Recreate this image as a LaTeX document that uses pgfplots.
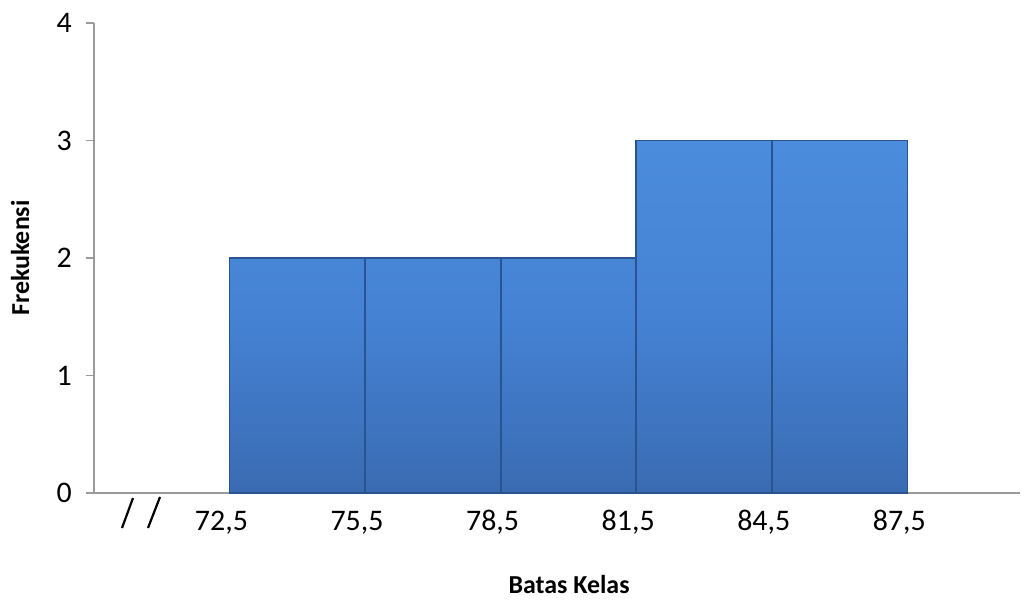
\documentclass[border=0pt]{standalone}
\usepackage{pgfplots}
\pgfplotsset{compat=1.18}
\usepackage{fontspec}
\setmainfont{Carlito}
\definecolor{barmid}{HTML}{4582D4}
\definecolor{bartop}{HTML}{4C8CDC}
\definecolor{barbot}{HTML}{3A6BB2}
\definecolor{baredge}{HTML}{2A5490}
\definecolor{axgray}{HTML}{9A9A9A}
\begin{document}
\begin{tikzpicture}
\begin{axis}[
  scale only axis,
  width=926bp, height=470bp,
  xmin=0, xmax=6.83, ymin=0, ymax=4,
  axis x line=bottom, axis y line=left,
  axis line style={-, draw=axgray, line width=1.2bp},
  ytick={0,1,2,3,4},
  xtick={0.94,1.94,2.94,3.94,4.94,5.94},
  xticklabels={{72,5},{75,5},{78,5},{81,5},{84,5},{87,5}},
  xtick style={draw=none},
  ytick style={draw=axgray, line width=1.2bp},
  tick align=outside,
  major tick length=8bp,
  /pgf/number format/assume math mode=true,
  tick label style={font=\fontsize{30}{34}\selectfont},
  xticklabel style={anchor=base, yshift=-29bp, inner sep=0pt},
  yticklabel style={anchor=east, inner sep=0pt, xshift=-14bp},
  xlabel={Batas Kelas},
  ylabel={Frekukensi},
  label style={font=\fontsize{26}{30}\selectfont\bfseries},
  xlabel style={at={(axis description cs:0.513,-0.1957)}, anchor=center},
  ylabel style={at={(axis description cs:-0.0799,0.5)}, anchor=center, rotate=0},
  clip=false,
]
\addplot[ybar interval=1, draw=baredge, line width=1.8bp,
  top color=bartop, bottom color=barbot, middle color=barmid]
  coordinates {(1,2) (2,2) (3,2) (4,3) (5,3) (6,3)};
\end{axis}
\draw[axgray, line width=1.2bp] ([xshift=-8bp]current axis.origin) -- (current axis.origin);
\draw[black, line width=2.2bp] ([xshift=28bp,yshift=-35bp]current axis.origin) -- ([xshift=39bp,yshift=-5bp]current axis.origin);
\draw[black, line width=2.2bp] ([xshift=54bp,yshift=-35bp]current axis.origin) -- ([xshift=66bp,yshift=-4bp]current axis.origin);
\pgfresetboundingbox
\useasboundingbox ([xshift=-94bp,yshift=-109bp]current axis.origin) rectangle ([xshift=941bp,yshift=493bp]current axis.origin);
\end{tikzpicture}
\end{document}
